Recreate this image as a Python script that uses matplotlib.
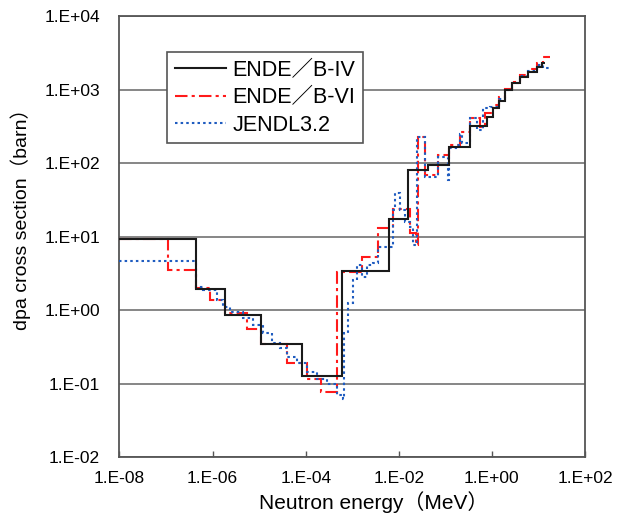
import numpy as np
import matplotlib
matplotlib.use('Agg')
import matplotlib.pyplot as plt
from matplotlib.ticker import FuncFormatter, NullLocator, LogLocator

# ENDF/B-IV (black), group edges in MeV and dpa cross section in barn
e_b4 = [1e-8, 4.3e-7, 1.85e-6, 1.1e-5, 8.5e-5, 6.1e-4, 6.25e-3, 1.55e-2, 4.3e-2,
        0.12, 0.34, 0.77, 1.07, 1.44, 1.91, 2.66, 4.02, 6.05, 9.16, 11.7, 13.8]
s_b4 = [9.25, 1.93, 0.845, 0.344, 0.128, 3.43, 17.1, 80.4, 94, 164,
        322, 419, 555, 705, 984, 1213, 1493, 1747, 2042, 2318]

# ENDF/B-VI (red)
e_b6 = [1e-8, 1.12e-7, 4.4e-7, 8.8e-7, 1.85e-6, 5.6e-6, 1.1e-5, 3.9e-5, 1.08e-4,
        2.1e-4, 4.6e-4, 1.6e-3, 3.6e-3, 7.6e-3, 1.74e-2, 2.34e-2, 2.62e-2, 3.66e-2,
        7.06e-2, 0.12, 0.207, 0.339, 0.555, 0.71, 1.07, 1.44, 1.91, 2.66, 4.02,
        6.05, 9.16, 12.7, 17.7]
s_b6 = [9.4, 3.5, 1.98, 1.37, 0.92, 0.56, 0.344, 0.188, 0.114, 0.0774,
        3.32, 5.3, 12.9, 23.4, 11.1, 7.65, 228, 68.7, 128, 176,
        267, 405, 312, 475, 615, 798, 1007, 1276, 1574, 1884, 2270, 2795]

# JENDL3.2 (blue)
e_jd = [1e-8, 4.4e-7, 6.3e-7, 1.22e-6, 1.7e-6, 2.37e-6, 4.57e-6, 7.5e-6, 1.23e-5,
        1.86e-5, 2.8e-5, 3.9e-5, 6.4e-5, 1.05e-4, 1.72e-4, 2.82e-4, 4.6e-4, 6.2e-4,
        6.65e-4, 8.2e-4, 1.05e-3, 1.25e-3, 1.6e-3, 2.04e-3, 2.83e-3, 3.63e-3, 7.6e-3,
        8.3e-3, 1.07e-2, 1.38e-2, 1.74e-2, 2.0e-2, 2.49e-2, 3.66e-2, 7.06e-2,
        0.116, 0.12, 0.166, 0.207, 0.225, 0.339, 0.471, 0.655, 0.91, 1.44, 1.91,
        2.66, 4.02, 6.05, 9.16, 12.7, 16.6]
s_jd = [4.69, 2.07, 1.86, 1.38, 1.11, 0.95, 0.77, 0.626, 0.482, 0.352,
        0.301, 0.232, 0.188, 0.145, 0.117, 0.1, 0.0698, 0.061, 0.482, 1.23,
        2.56, 4.09, 2.84, 4.09, 4.32, 7.26, 22.96, 38.7, 22.96, 15.8, 13.6,
        7.65, 228, 65.2, 122, 58.7, 158, 176, 251, 186, 405, 282, 555, 575,
        741, 977, 1230, 1514, 1778, 2140, 1940]

plt.rcParams['font.family'] = ['Liberation Sans', 'Noto Sans CJK JP', 'DejaVu Sans']

fig = plt.figure(figsize=(6.24, 5.17), dpi=100)
ax = fig.add_axes([0.1915, 0.116, 0.746, 0.853])

ax.stairs(s_b4, e_b4, baseline=None, color='#1a1a1a', lw=1.5, ls='-', label='ENDE／B-IV', zorder=4)
ax.stairs(s_b6, e_b6, baseline=None, color='#ff1a1a', lw=1.5, ls=(0, (6, 2, 1.5, 2)), label='ENDE／B-VI', zorder=3)
ax.stairs(s_jd, e_jd, baseline=None, color='#1f5cc0', lw=1.5, ls=(0, (1.2, 1.5)), label='JENDL3.2', zorder=3)

ax.set_xscale('log')
ax.set_yscale('log')
ax.set_xlim(1e-8, 1e2)
ax.set_ylim(1e-2, 1e4)

ax.xaxis.set_major_locator(LogLocator(base=100))
ax.yaxis.set_major_locator(LogLocator(base=10))
ax.xaxis.set_minor_locator(NullLocator())
ax.yaxis.set_minor_locator(NullLocator())
fmt = FuncFormatter(lambda v, p: '1.E%+03d' % int(round(np.log10(v))))
ax.xaxis.set_major_formatter(fmt)
ax.yaxis.set_major_formatter(fmt)
ax.tick_params(axis='x', direction='in', length=4, width=1, color='#555555', labelsize=12.5, pad=10)
ax.tick_params(axis='y', direction='in', length=0, labelsize=12.5, pad=14)

ax.grid(axis='y', color='#666666', lw=1.1)
ax.set_axisbelow(True)
for sp in ax.spines.values():
    sp.set_color('#555555')
    sp.set_linewidth(1.3)

ax.set_xlabel('Neutron energy（MeV）', fontsize=15)
ax.set_ylabel('dpa cross section（barn）', fontsize=14)
ax.xaxis.set_label_coords(0.545, -0.078)
ax.yaxis.set_label_coords(-0.19, 0.55)

leg = ax.legend(loc='upper left', bbox_to_anchor=(0.102, 0.918), borderaxespad=0,
                fontsize=15.5, fancybox=False, edgecolor='#555555', framealpha=1,
                handlelength=2.4, handletextpad=0.3, labelspacing=0.3, borderpad=0.35)
leg.get_frame().set_linewidth(1.2)

fig.savefig('out.png', dpi=100)
